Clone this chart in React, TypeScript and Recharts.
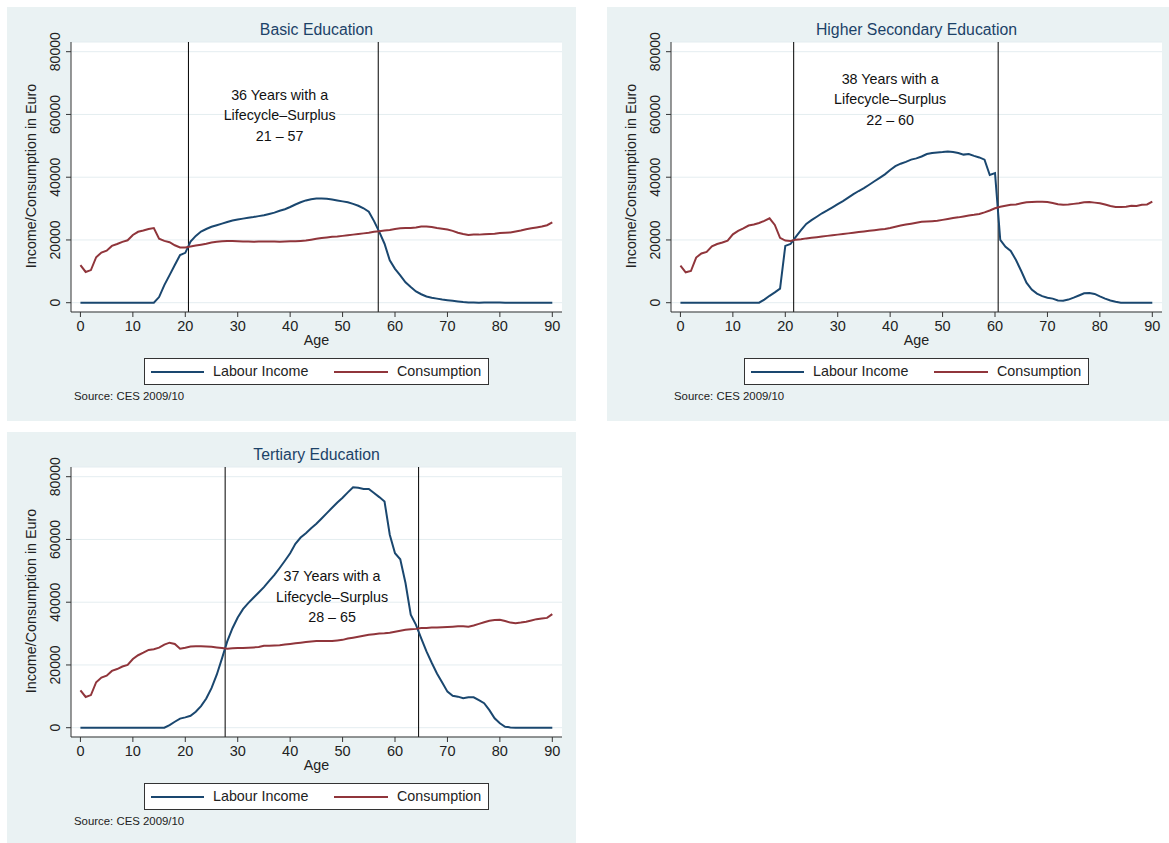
import { LineChart, Line, XAxis, YAxis, CartesianGrid, ReferenceLine, ReferenceDot } from 'recharts';

const FONT = '"Liberation Sans", Arial, Helvetica, sans-serif';
const NAVY = '#1a476f';
const MAROON = '#90353b';

const ages = Array.from({ length: 91 }, (_, i) => i);
const ageTicks = [0, 10, 20, 30, 40, 50, 60, 70, 80, 90];
const euroTicks = [0, 20000, 40000, 60000, 80000];

const basicLabour = [
  0, 0, 0, 0, 0, 0, 0, 0, 0, 0,
  0, 0, 0, 0, 0, 1800, 5600, 8800, 12000, 15200,
  15900, 19500, 21300, 22700, 23500, 24200, 24700, 25200, 25700, 26200,
  26500, 26800, 27100, 27300, 27600, 27900, 28300, 28700, 29300, 29800,
  30500, 31300, 32000, 32600, 33000, 33200, 33200, 33100, 32900, 32600,
  32300, 32000, 31500, 30900, 30100, 29000, 26000, 22600, 18800, 13500,
  10800, 8700, 6500, 5000, 3600, 2700, 2000, 1600, 1300, 1000,
  800, 600, 400, 200, 100, 50, 0, 50, 100, 100,
  50, 0, 0, 0, 0, 0, 0, 0, 0, 0,
  0,
];
const basicCons = [
  12000, 9800, 10400, 14500, 16000, 16600, 18100, 18700, 19400, 19900,
  21600, 22600, 23000, 23500, 23800, 20400, 19700, 19300, 18300, 17600,
  17600, 17900, 18200, 18500, 18800, 19200, 19400, 19600, 19700, 19700,
  19600, 19500, 19500, 19400, 19500, 19500, 19500, 19500, 19400, 19500,
  19600, 19600, 19700, 19800, 20100, 20400, 20600, 20800, 21000, 21100,
  21300, 21500, 21700, 21900, 22100, 22300, 22600, 22800, 23000, 23200,
  23500, 23700, 23800, 23800, 24000, 24300, 24300, 24100, 23800, 23600,
  23300, 22900, 22300, 21900, 21600, 21700, 21700, 21800, 21900, 22000,
  22200, 22300, 22400, 22700, 23000, 23400, 23700, 24000, 24300, 24700,
  25600,
];

const hsLabour = [
  0, 0, 0, 0, 0, 0, 0, 0, 0, 0,
  0, 0, 0, 0, 0, 0, 1000, 2200, 3300, 4500,
  18100, 18700, 21000, 23100, 25100, 26300, 27400, 28500, 29400, 30400,
  31400, 32400, 33500, 34600, 35600, 36500, 37600, 38700, 39800, 40900,
  42300, 43500, 44300, 44900, 45600, 46000, 46600, 47400, 47700, 47900,
  48000, 48200, 48000, 47700, 47200, 47400, 46800, 46300, 45600, 40700,
  41300, 20000, 17800, 16500, 13600, 10100, 6400, 4200, 2900, 2100,
  1600, 1300, 700, 600, 1000, 1600, 2300, 3000, 3100, 2800,
  2000, 1300, 700, 300, 0, 0, 0, 0, 0, 0,
  0,
];
const hsCons = [
  11800, 9700, 10100, 14400, 15700, 16200, 18000, 18700, 19200, 19800,
  21800, 22900, 23700, 24600, 24900, 25400, 26100, 26900, 24800, 20700,
  19800, 19700, 20100, 20200, 20500, 20700, 20900, 21100, 21300, 21500,
  21700, 21900, 22100, 22300, 22500, 22700, 22900, 23100, 23300, 23500,
  23800, 24200, 24600, 24900, 25200, 25500, 25800, 25900, 26000, 26100,
  26400, 26700, 27000, 27200, 27500, 27800, 28000, 28300, 28800, 29400,
  30100, 30600, 30900, 31200, 31300, 31700, 32000, 32100, 32200, 32200,
  32100, 31800, 31400, 31200, 31300, 31500, 31700, 32000, 32100, 31900,
  31700, 31300, 30800, 30500, 30500, 30600, 30900, 30800, 31200, 31300,
  32200,
];

const terLabour = [
  0, 0, 0, 0, 0, 0, 0, 0, 0, 0,
  0, 0, 0, 0, 0, 0, 0, 850, 1900, 2900,
  3300, 3800, 5100, 6900, 9300, 12600, 16900, 22100, 27500, 31700,
  35100, 37800, 39700, 41400, 43100, 44800, 46800, 48700, 50900, 53200,
  55600, 58600, 60600, 62000, 63600, 65000, 66700, 68400, 70100, 71800,
  73300, 75000, 76600, 76500, 76100, 76100, 74800, 73500, 72100, 61500,
  55600, 53700, 46100, 36000, 32800, 28500, 24300, 20700, 17300, 14400,
  11500, 10200, 9900, 9400, 9700, 9700, 8800, 7800, 5600, 3000,
  1400, 300, 100, 0, 0, 0, 0, 0, 0, 0,
  0,
];
const terCons = [
  11900, 9800, 10400, 14500, 16000, 16600, 18100, 18700, 19500, 20000,
  21900, 23100, 23900, 24800, 25000, 25500, 26500, 27100, 26700, 25200,
  25500, 25900, 26000, 26000, 25900, 25800, 25600, 25400, 25200, 25300,
  25400, 25400, 25500, 25600, 25700, 26100, 26100, 26200, 26300, 26500,
  26700, 26900, 27100, 27300, 27500, 27600, 27600, 27600, 27600, 27800,
  28000, 28400, 28700, 29000, 29300, 29600, 29800, 30000, 30100, 30300,
  30600, 30900, 31200, 31400, 31500, 31800, 31800, 31900, 31900, 32000,
  32100, 32200, 32300, 32300, 32200, 32600, 33100, 33600, 34100, 34300,
  34400, 34000, 33500, 33300, 33500, 33800, 34200, 34600, 34800, 35000,
  36200,
];

const YTick = (props: any) => {
  const { x, y, payload } = props;
  return (
    <text transform={`translate(${x},${y}) rotate(-90)`} textAnchor="middle" fontSize={14} fontFamily={FONT} fill="#222">
      {payload.value}
    </text>
  );
};

const YTitle = (props: any) => {
  const vb = props.viewBox || { x: 0, y: 35, width: 64, height: 270 };
  const cx = vb.x + 28.5;
  const cy = vb.y + vb.height / 2 - 1;
  return (
    <text transform={`translate(${cx},${cy}) rotate(-90)`} textAnchor="middle" fontSize={14.3} fontFamily={FONT} fill="#222">
      Income/Consumption in Euro
    </text>
  );
};

const XTitle = (props: any) => {
  const vb = props.viewBox || { x: 64, y: 305, width: 491, height: 36 };
  return (
    <text x={vb.x + vb.width / 2} y={vb.y + 33} textAnchor="middle" fontSize={14.3} fontFamily={FONT} fill="#222">
      Age
    </text>
  );
};

const Note = (props: any) => {
  const vb = props.viewBox || { x: 0, y: 0, width: 0, height: 0 };
  const cx = vb.x + vb.width / 2;
  const cy = vb.y + vb.height / 2;
  return (
    <g>
      {props.lines.map((t: string, i: number) => (
        <text key={i} x={cx} y={cy + (i - 1) * 20.5} dy="0.35em" textAnchor="middle" fontSize={14.3} fontFamily={FONT} fill="#111">
          {t}
        </text>
      ))}
    </g>
  );
};

type PanelProps = {
  left: number;
  top: number;
  title: string;
  labour: number[];
  cons: number[];
  cuts: number[];
  note: string[];
  noteAt: number[];
};

const Panel = ({ left, top, title, labour, cons, cuts, note, noteAt }: PanelProps) => {
  const data = ages.map((age, i) => ({ age, labour: labour[i], cons: cons[i] }));
  return (
    <div style={{ position: 'absolute', left, top, width: 569, height: 414, background: '#eaf2f3', fontFamily: FONT }}>
      <div style={{ position: 'absolute', left: 64, top: 14, width: 491, textAlign: 'center', fontSize: 15.8, lineHeight: '18px', color: '#1c4268' }}>
        {title}
      </div>
      <div style={{ position: 'absolute', left: 0, top: 0 }}>
        <LineChart width={569} height={341} data={data} margin={{ top: 35, right: 14, left: 0, bottom: 0 }}>
          <CartesianGrid vertical={false} stroke="#e4edf0" fill="#ffffff" />
          <XAxis
            dataKey="age"
            type="number"
            domain={[-1.8, 91.85]}
            ticks={ageTicks}
            allowDataOverflow
            height={36}
            tickSize={5}
            tickMargin={4}
            tick={{ fontSize: 14.5, fontFamily: FONT, fill: '#222' }}
            stroke="#333"
            label={<XTitle />}
          />
          <YAxis
            type="number"
            domain={[-2960, 83090]}
            ticks={euroTicks}
            allowDataOverflow
            width={64}
            tickSize={5}
            tickMargin={6}
            tick={<YTick />}
            stroke="#333"
            label={<YTitle />}
          />
          {cuts.map((c) => (
            <ReferenceLine key={c} x={c} stroke="#000" strokeWidth={1} />
          ))}
          <ReferenceDot x={noteAt[0]} y={noteAt[1]} r={1} fill="none" stroke="none" label={<Note lines={note} />} />
          <Line type="linear" dataKey="labour" stroke={NAVY} strokeWidth={2} dot={false} isAnimationActive={false} />
          <Line type="linear" dataKey="cons" stroke={MAROON} strokeWidth={2} dot={false} isAnimationActive={false} />
        </LineChart>
      </div>
      <div style={{ position: 'absolute', left: 137, top: 351, width: 345, height: 27, boxSizing: 'border-box', border: '1px solid #333', background: '#fff', fontSize: 14.3, lineHeight: '25px', color: '#222' }}>
        <div style={{ position: 'absolute', left: 6, top: 12, width: 53, height: 2, background: NAVY }} />
        <div style={{ position: 'absolute', left: 68, top: 0 }}>Labour Income</div>
        <div style={{ position: 'absolute', left: 189, top: 12, width: 54, height: 2, background: MAROON }} />
        <div style={{ position: 'absolute', left: 252, top: 0 }}>Consumption</div>
      </div>
      <div style={{ position: 'absolute', left: 67, top: 383, fontSize: 11.4, lineHeight: '13px', color: '#222' }}>
        Source: CES 2009/10
      </div>
    </div>
  );
};

export default function App() {
  return (
    <div style={{ position: 'fixed', left: 0, top: 0, width: 1169, height: 843, overflow: 'hidden', background: '#fff' }}>
      <Panel
        left={7}
        top={7}
        title="Basic Education"
        labour={basicLabour}
        cons={basicCons}
        cuts={[20.6, 56.8]}
        note={['36 Years with a', 'Lifecycle\u2013Surplus', '21 \u2013 57']}
        noteAt={[38.0, 59800]}
      />
      <Panel
        left={607}
        top={7}
        title="Higher Secondary Education"
        labour={hsLabour}
        cons={hsCons}
        cuts={[21.6, 60.6]}
        note={['38 Years with a', 'Lifecycle\u2013Surplus', '22 \u2013 60']}
        noteAt={[40.0, 64900]}
      />
      <Panel
        left={7}
        top={432}
        title="Tertiary Education"
        labour={terLabour}
        cons={terCons}
        cuts={[27.6, 64.5]}
        note={['37 Years with a', 'Lifecycle\u2013Surplus', '28 \u2013 65']}
        noteAt={[48.0, 41700]}
      />
    </div>
  );
}
